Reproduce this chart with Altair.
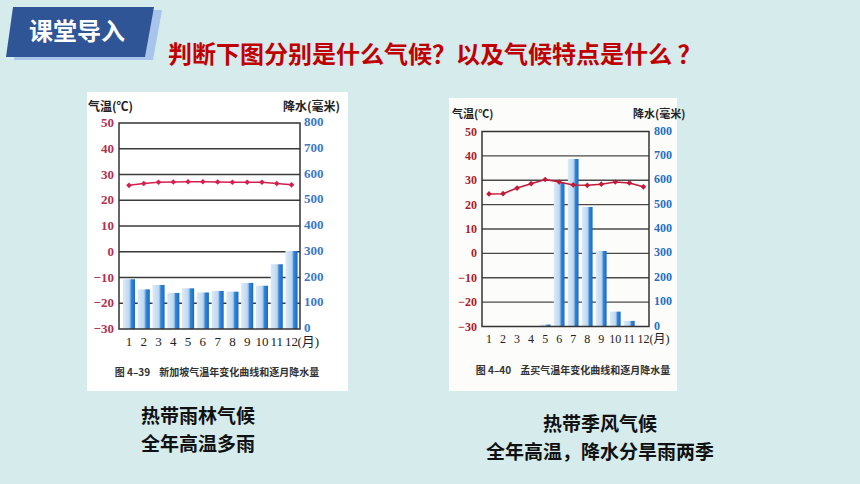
import altair as alt
import pandas as pd

# ---------------- data ----------------
months = list(range(1, 13))
month_labels = [str(m) for m in months]

sg_temp = [25.8, 26.5, 27.0, 27.1, 27.2, 27.2, 27.1, 27.0, 27.0, 27.0, 26.5, 26.0]
sg_rain = [193, 154, 171, 140, 158, 142, 148, 145, 179, 168, 251, 303]

mb_temp = [24.4, 24.5, 26.8, 28.6, 30.3, 29.3, 28.1, 27.9, 28.4, 29.3, 28.9, 27.3]
mb_rain = [0, 0, 0, 0, 8, 590, 687, 490, 310, 61, 23, 0]

temp_ticks = [50, 40, 30, 20, 10, 0, -10, -20, -30]
temp_labels = ["50", "40", "30", "20", "10", "0", "−10", "−20", "−30"]
rain_ticks = [800, 700, 600, 500, 400, 300, 200, 100, 0]
rain_labels = [str(v) for v in rain_ticks]
grid_temps = [40, 30, 20, 10, 0, -10, -20]

badge_text = "课堂导入"
title_text = "判断下图分别是什么气候？以及气候特点是什么 ？"
left_lines = ["热带雨林气候", "全年高温多雨"]
right_lines = ["热带季风气候", "全年高温，降水分旱雨两季"]
left_caption = "图 4–39\u00a0\u00a0\u00a0\u00a0新加坡气温年变化曲线和逐月降水量"
right_caption = "图 4–40\u00a0\u00a0\u00a0\u00a0孟买气温年变化曲线和逐月降水量"
temp_title = "气温(℃)"
rain_title = "降水(毫米)"

sg = pd.DataFrame({"month": months, "temp": sg_temp, "rain": sg_rain})
mb = pd.DataFrame({"month": months, "temp": mb_temp, "rain": mb_rain})
tdf = pd.DataFrame({"v": temp_ticks, "label": temp_labels})
rdf = pd.DataFrame({"v": rain_ticks, "label": rain_labels})
mdf = pd.DataFrame({"month": months, "label": month_labels})
gdf = pd.DataFrame({"v": grid_temps})
one = pd.DataFrame({"a": [0]})

CJK = "Noto Sans CJK SC"
SERIF = "Liberation Serif"


def bar_gradient():
    return alt.Gradient(
        gradient="linear",
        stops=[
            alt.GradientStop(offset=0, color="#dceaf7"),
            alt.GradientStop(offset=0.5, color="#c0d8ef"),
            alt.GradientStop(offset=0.6, color="#8cbae7"),
            alt.GradientStop(offset=0.68, color="#3388d9"),
            alt.GradientStop(offset=1, color="#1b68c6"),
        ],
        x1=0, x2=1, y1=0, y2=0,
    )


def climate_chart(df, box, xr, yr, pi, lab, colors, fs):
    x0, x1, y0, y1 = box  # plot frame
    xs = alt.Scale(type="band", domain=months, range=xr, paddingInner=pi, paddingOuter=pi / 2)
    ts = alt.Scale(domain=[-30, 50], range=yr, nice=False, zero=False)
    rs = alt.Scale(domain=[0, 800], range=yr, nice=False, zero=False)
    X = alt.X("month:O", scale=xs, axis=None)
    layers = []
    layers.append(
        alt.Chart(gdf).mark_rule(color=colors["grid"], strokeWidth=1.4).encode(
            y=alt.Y("v:Q", scale=ts, axis=None), x=alt.value(x0), x2=alt.value(x1)
        )
    )
    layers.append(
        alt.Chart(df).mark_bar(color=bar_gradient()).encode(
            x=X, y=alt.Y("rain:Q", scale=rs, axis=None), y2=alt.datum(0)
        )
    )
    layers.append(
        alt.Chart(one).mark_rect(fillOpacity=0, stroke=colors["frame"], strokeWidth=1.5).encode(
            x=alt.value(x0), x2=alt.value(x1), y=alt.value(y0), y2=alt.value(y1)
        )
    )
    layers.append(
        alt.Chart(df).mark_line(color=colors["line"], strokeWidth=1.5).encode(
            x=X, y=alt.Y("temp:Q", scale=ts, axis=None)
        )
    )
    layers.append(
        alt.Chart(df).mark_point(shape="diamond", filled=True, size=32, opacity=1, color=colors["line"]).encode(
            x=X, y=alt.Y("temp:Q", scale=ts, axis=None)
        )
    )
    layers.append(
        alt.Chart(tdf).mark_text(align="right", baseline="middle", font=SERIF, fontSize=fs,
                                 fontWeight="bold", color=colors["tlab"]).encode(
            x=alt.value(lab["tx"]), y=alt.Y("v:Q", scale=ts, axis=None), text="label:N"
        )
    )
    layers.append(
        alt.Chart(rdf).mark_text(align="left", baseline="middle", font=SERIF, fontSize=fs, dy=-1,
                                 fontWeight="bold", color=colors["rlab"]).encode(
            x=alt.value(lab["rx"]), y=alt.Y("v:Q", scale=rs, axis=None), text="label:N"
        )
    )
    layers.append(
        alt.Chart(mdf).mark_text(align="center", baseline="middle", font=SERIF, fontSize=fs,
                                 color="#222").encode(
            x=X, y=alt.value(lab["my"]), text="label:N"
        )
    )
    layers.append(
        alt.Chart(mdf[mdf.month == 12]).mark_text(align="left", baseline="middle", font=SERIF + ", " + CJK,
                                                  fontSize=fs, dx=6, color="#222").encode(
            x=X, y=alt.value(lab["my"]), text=alt.value("(月)")
        )
    )
    layers.append(
        alt.Chart(one).mark_text(align="left", baseline="middle", font=CJK, fontSize=lab["tfs"],
                                 fontWeight="bold", color="#222").encode(
            x=alt.value(lab["ttx"]), y=alt.value(lab["tty"]), text=alt.value(temp_title)
        )
    )
    layers.append(
        alt.Chart(one).mark_text(align="left", baseline="middle", font=CJK, fontSize=lab["tfs"],
                                 fontWeight="bold", color="#222").encode(
            x=alt.value(lab["rtx"]), y=alt.value(lab["tty"]), text=alt.value(rain_title)
        )
    )
    layers.append(
        alt.Chart(one).mark_text(align="center", baseline="middle", font=CJK, fontSize=10,
                                 fontWeight="bold", color="#333").encode(
            x=alt.value(lab["cx"]), y=alt.value(lab["cy"]), text=alt.value(lab["cap"])
        )
    )
    return layers


def textmark(txt, x, y, size, color, weight="bold", align="center"):
    return alt.Chart(one).mark_text(align=align, baseline="middle", font=CJK, fontSize=size,
                                    fontWeight=weight, color=color).encode(
        x=alt.value(x), y=alt.value(y), text=alt.value(txt)
    )


badge_path = "M -0.905 -0.338 L 1 -0.338 L 0.878 0.338 L -1 0.338 Z"

layers = []
layers.append(alt.Chart(one).mark_point(shape=badge_path, size=21904, filled=True, opacity=1,
                                        color="#a9c4ea", strokeWidth=0).encode(
    x=alt.value(88), y=alt.value(35)))
layers.append(alt.Chart(one).mark_point(shape=badge_path, size=21904, filled=True, opacity=1,
                                        color="#2f5597", strokeWidth=0).encode(
    x=alt.value(80), y=alt.value(32)))
layers.append(textmark(badge_text, 77, 33, 24, "#ffffff"))
layers.append(textmark(title_text, 168, 56, 24, "#c00000", align="left"))

layers.append(alt.Chart(one).mark_rect(color="#ffffff").encode(
    x=alt.value(87), x2=alt.value(348), y=alt.value(92), y2=alt.value(391)))
layers.append(alt.Chart(one).mark_rect(color="#fcfcfa").encode(
    x=alt.value(449), x2=alt.value(677), y=alt.value(98), y2=alt.value(391)))

layers += climate_chart(
    sg, (119, 300, 123, 329), [121.6, 298.9], [329, 123], 0.18,
    dict(tx=114, rx=304, my=342, ttx=88, rtx=283, tty=107, tfs=12, cx=217, cy=373, cap=left_caption),
    dict(grid="#3a3a3a", frame="#333333", line="#d42050", tlab="#b2304e", rlab="#3a78c8"),
    13,
)
layers += climate_chart(
    mb, (482, 649, 131.5, 326.5), [482, 650.4], [326.5, 131.5], 0.24,
    dict(tx=477, rx=654, my=339, ttx=452, rtx=633, tty=115, tfs=11, cx=573, cy=371, cap=right_caption),
    dict(grid="#4a4a4a", frame="#333333", line="#c41a3a", tlab="#a81c30", rlab="#2a6cc4"),
    12,
)

layers.append(textmark(left_lines[0], 198, 417, 19, "#111111"))
layers.append(textmark(left_lines[1], 198, 445, 19, "#111111"))
layers.append(textmark(right_lines[0], 600, 425, 19, "#111111"))
layers.append(textmark(right_lines[1], 600, 453, 19, "#111111"))

chart = alt.layer(*layers).resolve_scale(x="independent", y="independent").properties(
    width=860, height=484, background="#d5ebec", padding=0,
    autosize=alt.AutoSizeParams(type="none"),
).configure_view(strokeWidth=0)

chart.save("out.html", embed_options={"renderer": "svg", "actions": False})
